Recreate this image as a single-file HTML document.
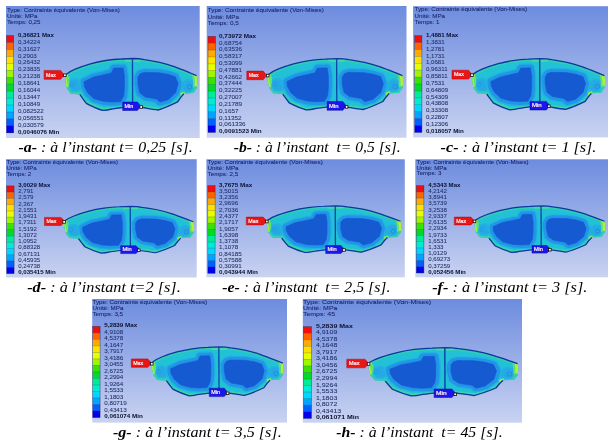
<!DOCTYPE html>
<html lang="fr"><head><meta charset="utf-8"><title>Contrainte équivalente (Von-Mises)</title>
<style>
html,body{margin:0;padding:0;background:#fff;}
body{width:616px;height:445px;overflow:hidden;}
svg{display:block;}
.t{font-family:"Liberation Sans",Arial,sans-serif;font-size:5.4px;fill:#1a2668;stroke:#1a2668;stroke-width:0.07px;}
.l{font-family:"Liberation Sans",Arial,sans-serif;font-size:5.4px;fill:#222e68;stroke:#222e68;stroke-width:0.06px;}
.lb{font-family:"Liberation Sans",Arial,sans-serif;font-size:5.4px;font-weight:bold;fill:#0b1030;}
.tag{font-family:"Liberation Sans",Arial,sans-serif;font-size:5px;fill:#fff0f0;stroke:#fff0f0;stroke-width:0.2px;}
.cap{font-family:"Liberation Serif","Times New Roman",serif;font-style:italic;font-size:14.8px;fill:#000;}
.cap .b{font-weight:bold;}
</style></head><body>
<svg width="616" height="445" viewBox="0 0 616 445">
<defs>
<filter id="soft" x="-5%" y="-5%" width="110%" height="110%"><feGaussianBlur stdDeviation="0.45"/></filter>
<linearGradient id="bg" x1="0" y1="0" x2="0" y2="1"><stop offset="0" stop-color="#6d8cdf"/><stop offset="1" stop-color="#c9d3f1"/></linearGradient>

<clipPath id="padclip"><path d="M66.1,74.4 C69,72 72,70.5 75.3,69.1 C80,67 85,65.3 90.5,63.7 C95,62.4 100,61.3 105.8,60.4 C111,59.6 116,59.1 121.1,58.9 C125,58.6 129,58.4 133.3,58.4 C137,58.5 141,58.9 144.3,59.5 C149,60.2 154,61.1 159.5,62.2 C165,63.4 170,65 174.8,66.8 C180,68.7 185,70.8 190.1,72.9 L196.4,75.6 L197.2,80.5 L196.6,88 L193.4,93 L183.6,93.6 L180.6,97.2 L177.4,101.8 C171,105 164.5,108 158,109.9 C153,109.2 148,108.3 142.7,107.4 L133,106.7 L122.6,107.4 C119,108 115,108.5 111.9,108.9 C109,109.7 106,110.2 102.8,110.3 C97,108.6 91.5,106 86.3,103.2 L83.2,99 L79.9,94.3 L70.7,93.5 L66.9,88.2 L65.3,80.5 Z"/></clipPath>
<symbol id="pad" viewBox="65.3 58.4 131.9 51.9" preserveAspectRatio="none" overflow="visible">
 <g clip-path="url(#padclip)">
  <rect x="60" y="55" width="142" height="60" fill="#22c2d6"/>
  <path d="M66.1,74.4 C69,72 72,70.5 75.3,69.1 C80,67 85,65.3 90.5,63.7 C95,62.4 100,61.3 105.8,60.4 C111,59.6 116,59.1 121.1,58.9 C125,58.6 129,58.4 133.3,58.4 C137,58.5 141,58.9 144.3,59.5 C149,60.2 154,61.1 159.5,62.2 C165,63.4 170,65 174.8,66.8 C180,68.7 185,70.8 190.1,72.9 L196.4,75.6 L197.2,80.5 L196.6,88 L193.4,93 L183.6,93.6 L180.6,97.2 L177.4,101.8 C171,105 164.5,108 158,109.9 C153,109.2 148,108.3 142.7,107.4 L133,106.7 L122.6,107.4 C119,108 115,108.5 111.9,108.9 C109,109.7 106,110.2 102.8,110.3 C97,108.6 91.5,106 86.3,103.2 L83.2,99 L79.9,94.3 L70.7,93.5 L66.9,88.2 L65.3,80.5 Z" fill="none" stroke="#32ceb0" stroke-width="4.6" stroke-linejoin="round"/>
  <path d="M124,58 L141,58 L140,61.6 L125,61.6 Z" fill="#50dc9c" opacity="0.8"/>
  <path d="M87,103.6 L104,110.5 L122,107.5 L133,106.8 L143,107.5 L158,110 L177,102 L175.6,100.4 L158,107.5 L143,105 L133,104.4 L122,105 L104,108 L88.4,101.4 Z" fill="#50dc9c" opacity="0.4"/>
  <g stroke-linejoin="round">
   <path d="M70,80 L76,78.5 L80,81 L81,88.5 L77,91 L72,90.5 L69.5,86 Z" fill="#26a8e4" stroke="#24b2e2" stroke-width="1.6"/>
   <path d="M193,81 L187,79.5 L183,82 L182.4,89 L186,91.5 L191,91 L193.5,87 Z" fill="#26a8e4" stroke="#24b2e2" stroke-width="1.6"/>
   <path d="M78,82 L86,78 L86,90 L81,89 Z" fill="#26a8e4" stroke="#24b2e2" stroke-width="1.2"/>
   <path d="M184.5,83 L177,79 L177,91 L182.4,89.6 Z" fill="#26a8e4" stroke="#24b2e2" stroke-width="1.2"/>
   <path d="M84,81.6 L93.5,77 L104,74.6 L111.4,72.8 L113.6,68 L123.2,67.8 L124.4,76 L124.4,88 L123.6,96 L120.6,101.6 L112,102 L104,101.4 L94,98.6 L87.6,92.6 L84.4,86.4 Z" fill="#2096e6" stroke="#24b2e2" stroke-width="9.4"/>
   <path d="M137.8,77 L140,73.6 L144,72.3 L158.7,72.6 L168,74.2 L175.2,76.6 L177.9,83.5 L175.6,92.5 L168,99.6 L160,102 L156.2,98.8 L145,96.8 L139.6,92.6 L137.8,84 Z" fill="#2096e6" stroke="#24b2e2" stroke-width="9.4"/>
   <path d="M84,81.6 L93.5,77 L104,74.6 L111.4,72.8 L113.6,68 L123.2,67.8 L124.4,76 L124.4,88 L123.6,96 L120.6,101.6 L112,102 L104,101.4 L94,98.6 L87.6,92.6 L84.4,86.4 Z" fill="#2096e6" stroke="#2096e6" stroke-width="6.8"/>
   <path d="M137.8,77 L140,73.6 L144,72.3 L158.7,72.6 L168,74.2 L175.2,76.6 L177.9,83.5 L175.6,92.5 L168,99.6 L160,102 L156.2,98.8 L145,96.8 L139.6,92.6 L137.8,84 Z" fill="#2096e6" stroke="#2096e6" stroke-width="6.8"/>
   <path d="M84,81.6 L93.5,77 L104,74.6 L111.4,72.8 L113.6,68 L123.2,67.8 L124.4,76 L124.4,88 L123.6,96 L120.6,101.6 L112,102 L104,101.4 L94,98.6 L87.6,92.6 L84.4,86.4 Z" fill="#145ad2" stroke="#145ad2" stroke-width="0.6"/>
   <path d="M137.8,77 L140,73.6 L144,72.3 L158.7,72.6 L168,74.2 L175.2,76.6 L177.9,83.5 L175.6,92.5 L168,99.6 L160,102 L156.2,98.8 L145,96.8 L139.6,92.6 L137.8,84 Z" fill="#145ad2" stroke="#145ad2" stroke-width="0.6"/>
  </g>
  <ellipse cx="189.4" cy="86.8" rx="2.1" ry="2.3" fill="#26a8e4" stroke="#2488de" stroke-width="0.8"/>
  <ellipse cx="72.2" cy="84.6" rx="1.8" ry="2.1" fill="#26a8e4" stroke="#2096e6" stroke-width="0.6"/>
  <path d="M65,74 L68.2,73 L67.8,80 L68.6,86.5 L66,88 Z" fill="#a6ee3c"/>
  <path d="M66.5,78 L69.6,76 L69.4,84 L68,86 Z" fill="#62e070"/>
  <path d="M197.6,74.6 L193.6,73.6 L194.4,80.5 L194.2,86 L197.4,86.5 Z" fill="#b0f034"/>
  <path d="M193.8,74 L191.8,73.6 L192.8,81 L193,87.5 L194.6,87.5 Z" fill="#62e070"/>
  <path d="M180,93 L184,91.6 L185,94 L181,96.5 Z" fill="#9be848"/>
 </g>
 <path d="M66.1,74.4 C69,72 72,70.5 75.3,69.1 C80,67 85,65.3 90.5,63.7 C95,62.4 100,61.3 105.8,60.4 C111,59.6 116,59.1 121.1,58.9 C125,58.6 129,58.4 133.3,58.4 C137,58.5 141,58.9 144.3,59.5 C149,60.2 154,61.1 159.5,62.2 C165,63.4 170,65 174.8,66.8 C180,68.7 185,70.8 190.1,72.9 L196.4,75.6" fill="none" stroke="#0c38a2" stroke-width="1.35"/>
 <path d="M183.6,93.6 L180.6,97.2 L177.4,101.8 C171,105 164.5,108 158,109.9 C153,109.2 148,108.3 142.7,107.4 L133,106.7 L122.6,107.4 C119,108 115,108.5 111.9,108.9 C109,109.7 106,110.2 102.8,110.3 C97,108.6 91.5,106 86.3,103.2 L83.2,99 L79.9,94.3" fill="none" stroke="#0c38a2" stroke-width="1.35"/>
 <path d="M132.4,58.6 L132.6,107" stroke="#0c44a8" stroke-width="1.3" fill="none"/>
</symbol>
</defs>
<rect width="616" height="445" fill="#ffffff"/>
<g id="panel-a">
<rect x="6" y="6" width="193.7" height="132" fill="url(#bg)"/>
<g filter="url(#soft)">
<text class="t" transform="translate(6.9,11.6) scale(1.144,1.004)">Type: Contrainte équivalente (Von-Mises)</text>
<text class="t" transform="translate(6.9,17.6) scale(1.144,1.004)">Unité: MPa</text>
<text class="t" transform="translate(6.9,24) scale(1.144,1.004)">Temps: 0,25</text>
<rect x="6.5" y="35.6" width="7.2" height="7.09" fill="#f01010"/>
<rect x="6.5" y="42.54" width="7.2" height="7.09" fill="#ff6400"/>
<path d="M6.5,42.54 H13.7" stroke="#101838" stroke-width="0.45" opacity="0.45"/>
<rect x="6.5" y="49.49" width="7.2" height="7.09" fill="#ffaa00"/>
<path d="M6.5,49.49 H13.7" stroke="#101838" stroke-width="0.45" opacity="0.45"/>
<rect x="6.5" y="56.43" width="7.2" height="7.09" fill="#ffe100"/>
<path d="M6.5,56.43 H13.7" stroke="#101838" stroke-width="0.45" opacity="0.45"/>
<rect x="6.5" y="63.37" width="7.2" height="7.09" fill="#e6ff00"/>
<path d="M6.5,63.37 H13.7" stroke="#101838" stroke-width="0.45" opacity="0.45"/>
<rect x="6.5" y="70.31" width="7.2" height="7.09" fill="#a0f500"/>
<path d="M6.5,70.31 H13.7" stroke="#101838" stroke-width="0.45" opacity="0.45"/>
<rect x="6.5" y="77.26" width="7.2" height="7.09" fill="#3ce100"/>
<path d="M6.5,77.26 H13.7" stroke="#101838" stroke-width="0.45" opacity="0.45"/>
<rect x="6.5" y="84.2" width="7.2" height="7.09" fill="#00dc28"/>
<path d="M6.5,84.2 H13.7" stroke="#101838" stroke-width="0.45" opacity="0.45"/>
<rect x="6.5" y="91.14" width="7.2" height="7.09" fill="#00eb96"/>
<path d="M6.5,91.14 H13.7" stroke="#101838" stroke-width="0.45" opacity="0.45"/>
<rect x="6.5" y="98.09" width="7.2" height="7.09" fill="#00ebd2"/>
<path d="M6.5,98.09 H13.7" stroke="#101838" stroke-width="0.45" opacity="0.45"/>
<rect x="6.5" y="105.03" width="7.2" height="7.09" fill="#00d7ff"/>
<path d="M6.5,105.03 H13.7" stroke="#101838" stroke-width="0.45" opacity="0.45"/>
<rect x="6.5" y="111.97" width="7.2" height="7.09" fill="#00a5ff"/>
<path d="M6.5,111.97 H13.7" stroke="#101838" stroke-width="0.45" opacity="0.45"/>
<rect x="6.5" y="118.91" width="7.2" height="7.09" fill="#005fff"/>
<path d="M6.5,118.91 H13.7" stroke="#101838" stroke-width="0.45" opacity="0.45"/>
<rect x="6.5" y="125.86" width="7.2" height="7.09" fill="#0000eb"/>
<path d="M6.5,125.86 H13.7" stroke="#101838" stroke-width="0.45" opacity="0.45"/>
<rect x="6.5" y="35.6" width="7.2" height="97.2" fill="none" stroke="#1a2050" stroke-width="0.5" opacity="0.7"/>
<text class="lb" transform="translate(17.9,36.8) scale(1.144,1.004)">0,36821 Max</text>
<text class="l" transform="translate(17.9,43.72) scale(1.144,1.004)">0,34224</text>
<text class="l" transform="translate(17.9,50.64) scale(1.144,1.004)">0,31627</text>
<text class="l" transform="translate(17.9,57.56) scale(1.144,1.004)">0,2903</text>
<text class="l" transform="translate(17.9,64.49) scale(1.144,1.004)">0,26432</text>
<text class="l" transform="translate(17.9,71.41) scale(1.144,1.004)">0,23835</text>
<text class="l" transform="translate(17.9,78.33) scale(1.144,1.004)">0,21238</text>
<text class="l" transform="translate(17.9,85.25) scale(1.144,1.004)">0,18641</text>
<text class="l" transform="translate(17.9,92.17) scale(1.144,1.004)">0,16044</text>
<text class="l" transform="translate(17.9,99.09) scale(1.144,1.004)">0,13447</text>
<text class="l" transform="translate(17.9,106.01) scale(1.144,1.004)">0,10849</text>
<text class="l" transform="translate(17.9,112.94) scale(1.144,1.004)">0,082522</text>
<text class="l" transform="translate(17.9,119.86) scale(1.144,1.004)">0,056551</text>
<text class="l" transform="translate(17.9,126.78) scale(1.144,1.004)">0,030579</text>
<text class="lb" transform="translate(17.9,133.7) scale(1.144,1.004)">0,0046076 Min</text>
<use href="#pad" x="65.2" y="58.5" width="132.2" height="51.9"/>
<path d="M44.1,70.4 L60.7,70.4 L63.1,73.45 L63.1,76.25 L60.7,79.3 L44.1,79.3 Z" fill="#ea1218" stroke="#b00a10" stroke-width="0.5" stroke-linejoin="round"/>
<rect x="63.6" y="74" width="2.6" height="2.6" fill="#fff" stroke="#101010" stroke-width="0.8"/>
<text class="tag" x="46" y="76.6" textLength="9.96" lengthAdjust="spacingAndGlyphs">Max</text>
<path d="M122.7,102 L137.3,102 L139.7,104.85 L139.7,107.65 L137.3,110.5 L122.7,110.5 Z" fill="#1a14ea" stroke="#0c0a9a" stroke-width="0.5" stroke-linejoin="round"/>
<rect x="139.9" y="105.7" width="2.6" height="2.6" fill="#fff" stroke="#101010" stroke-width="0.8"/>
<text class="tag" x="124.6" y="108" textLength="8.76" lengthAdjust="spacingAndGlyphs">Min</text>
</g>
</g>
<text class="cap" x="18.4" y="151.9" textLength="174.3" lengthAdjust="spacingAndGlyphs" xml:space="preserve"><tspan class="b">-a-</tspan> : à l’instant t= 0,25 [s].</text>
<g id="panel-b">
<rect x="206.7" y="6" width="199.8" height="131.7" fill="url(#bg)"/>
<g filter="url(#soft)">
<text class="t" transform="translate(207.8,12.4) scale(1.176,1.002)">Type: Contrainte équivalente (Von-Mises)</text>
<text class="t" transform="translate(207.8,18.6) scale(1.176,1.002)">Unité: MPa</text>
<text class="t" transform="translate(207.8,24.9) scale(1.176,1.002)">Temps: 0,5</text>
<rect x="208" y="36.4" width="7.5" height="7" fill="#f01010"/>
<rect x="208" y="43.25" width="7.5" height="7" fill="#ff6400"/>
<path d="M208,43.25 H215.5" stroke="#101838" stroke-width="0.45" opacity="0.45"/>
<rect x="208" y="50.1" width="7.5" height="7" fill="#ffaa00"/>
<path d="M208,50.1 H215.5" stroke="#101838" stroke-width="0.45" opacity="0.45"/>
<rect x="208" y="56.95" width="7.5" height="7" fill="#ffe100"/>
<path d="M208,56.95 H215.5" stroke="#101838" stroke-width="0.45" opacity="0.45"/>
<rect x="208" y="63.8" width="7.5" height="7" fill="#e6ff00"/>
<path d="M208,63.8 H215.5" stroke="#101838" stroke-width="0.45" opacity="0.45"/>
<rect x="208" y="70.65" width="7.5" height="7" fill="#a0f500"/>
<path d="M208,70.65 H215.5" stroke="#101838" stroke-width="0.45" opacity="0.45"/>
<rect x="208" y="77.5" width="7.5" height="7" fill="#3ce100"/>
<path d="M208,77.5 H215.5" stroke="#101838" stroke-width="0.45" opacity="0.45"/>
<rect x="208" y="84.35" width="7.5" height="7" fill="#00dc28"/>
<path d="M208,84.35 H215.5" stroke="#101838" stroke-width="0.45" opacity="0.45"/>
<rect x="208" y="91.2" width="7.5" height="7" fill="#00eb96"/>
<path d="M208,91.2 H215.5" stroke="#101838" stroke-width="0.45" opacity="0.45"/>
<rect x="208" y="98.05" width="7.5" height="7" fill="#00ebd2"/>
<path d="M208,98.05 H215.5" stroke="#101838" stroke-width="0.45" opacity="0.45"/>
<rect x="208" y="104.9" width="7.5" height="7" fill="#00d7ff"/>
<path d="M208,104.9 H215.5" stroke="#101838" stroke-width="0.45" opacity="0.45"/>
<rect x="208" y="111.75" width="7.5" height="7" fill="#00a5ff"/>
<path d="M208,111.75 H215.5" stroke="#101838" stroke-width="0.45" opacity="0.45"/>
<rect x="208" y="118.6" width="7.5" height="7" fill="#005fff"/>
<path d="M208,118.6 H215.5" stroke="#101838" stroke-width="0.45" opacity="0.45"/>
<rect x="208" y="125.45" width="7.5" height="7" fill="#0000eb"/>
<path d="M208,125.45 H215.5" stroke="#101838" stroke-width="0.45" opacity="0.45"/>
<rect x="208" y="36.4" width="7.5" height="95.9" fill="none" stroke="#1a2050" stroke-width="0.5" opacity="0.7"/>
<text class="lb" transform="translate(219.1,37.7) scale(1.176,1.002)">0,73972 Max</text>
<text class="l" transform="translate(219.1,44.52) scale(1.176,1.002)">0,68754</text>
<text class="l" transform="translate(219.1,51.34) scale(1.176,1.002)">0,63536</text>
<text class="l" transform="translate(219.1,58.16) scale(1.176,1.002)">0,58317</text>
<text class="l" transform="translate(219.1,64.99) scale(1.176,1.002)">0,53099</text>
<text class="l" transform="translate(219.1,71.81) scale(1.176,1.002)">0,47881</text>
<text class="l" transform="translate(219.1,78.63) scale(1.176,1.002)">0,42662</text>
<text class="l" transform="translate(219.1,85.45) scale(1.176,1.002)">0,37444</text>
<text class="l" transform="translate(219.1,92.27) scale(1.176,1.002)">0,32225</text>
<text class="l" transform="translate(219.1,99.09) scale(1.176,1.002)">0,27007</text>
<text class="l" transform="translate(219.1,105.91) scale(1.176,1.002)">0,21789</text>
<text class="l" transform="translate(219.1,112.74) scale(1.176,1.002)">0,1657</text>
<text class="l" transform="translate(219.1,119.56) scale(1.176,1.002)">0,11352</text>
<text class="l" transform="translate(219.1,126.38) scale(1.176,1.002)">0,061336</text>
<text class="lb" transform="translate(219.1,133.2) scale(1.176,1.002)">0,0091523 Min</text>
<use href="#pad" x="267.7" y="58.6" width="135.5" height="51.3"/>
<path d="M246.8,71.1 L263.2,71.1 L265.6,74 L265.6,76.8 L263.2,79.7 L246.8,79.7 Z" fill="#ea1218" stroke="#b00a10" stroke-width="0.5" stroke-linejoin="round"/>
<rect x="266.4" y="74.3" width="2.6" height="2.6" fill="#fff" stroke="#101010" stroke-width="0.8"/>
<text class="tag" x="248.7" y="77.15" textLength="9.84" lengthAdjust="spacingAndGlyphs">Max</text>
<path d="M327.1,101.5 L342.8,101.5 L345.2,104.5 L345.2,107.3 L342.8,110.3 L327.1,110.3 Z" fill="#1a14ea" stroke="#0c0a9a" stroke-width="0.5" stroke-linejoin="round"/>
<rect x="345.3" y="105.6" width="2.6" height="2.6" fill="#fff" stroke="#101010" stroke-width="0.8"/>
<text class="tag" x="329" y="107.65" textLength="9.42" lengthAdjust="spacingAndGlyphs">Min</text>
</g>
</g>
<text class="cap" x="233.7" y="151.9" textLength="167.1" lengthAdjust="spacingAndGlyphs" xml:space="preserve"><tspan class="b">-b-</tspan> : à l’instant  t= 0,5 [s].</text>
<g id="panel-c">
<rect x="413.1" y="6.2" width="194.9" height="131.2" fill="url(#bg)"/>
<g filter="url(#soft)">
<text class="t" transform="translate(414.6,11.4) scale(1.138,0.998)">Type: Contrainte équivalente (Von-Mises)</text>
<text class="t" transform="translate(414.6,17.75) scale(1.138,0.998)">Unité: MPa</text>
<text class="t" transform="translate(414.6,24.2) scale(1.138,0.998)">Temps: 1</text>
<rect x="414.7" y="35.7" width="7.2" height="7.05" fill="#f01010"/>
<rect x="414.7" y="42.6" width="7.2" height="7.05" fill="#ff6400"/>
<path d="M414.7,42.6 H421.9" stroke="#101838" stroke-width="0.45" opacity="0.45"/>
<rect x="414.7" y="49.5" width="7.2" height="7.05" fill="#ffaa00"/>
<path d="M414.7,49.5 H421.9" stroke="#101838" stroke-width="0.45" opacity="0.45"/>
<rect x="414.7" y="56.4" width="7.2" height="7.05" fill="#ffe100"/>
<path d="M414.7,56.4 H421.9" stroke="#101838" stroke-width="0.45" opacity="0.45"/>
<rect x="414.7" y="63.3" width="7.2" height="7.05" fill="#e6ff00"/>
<path d="M414.7,63.3 H421.9" stroke="#101838" stroke-width="0.45" opacity="0.45"/>
<rect x="414.7" y="70.2" width="7.2" height="7.05" fill="#a0f500"/>
<path d="M414.7,70.2 H421.9" stroke="#101838" stroke-width="0.45" opacity="0.45"/>
<rect x="414.7" y="77.1" width="7.2" height="7.05" fill="#3ce100"/>
<path d="M414.7,77.1 H421.9" stroke="#101838" stroke-width="0.45" opacity="0.45"/>
<rect x="414.7" y="84" width="7.2" height="7.05" fill="#00dc28"/>
<path d="M414.7,84 H421.9" stroke="#101838" stroke-width="0.45" opacity="0.45"/>
<rect x="414.7" y="90.9" width="7.2" height="7.05" fill="#00eb96"/>
<path d="M414.7,90.9 H421.9" stroke="#101838" stroke-width="0.45" opacity="0.45"/>
<rect x="414.7" y="97.8" width="7.2" height="7.05" fill="#00ebd2"/>
<path d="M414.7,97.8 H421.9" stroke="#101838" stroke-width="0.45" opacity="0.45"/>
<rect x="414.7" y="104.7" width="7.2" height="7.05" fill="#00d7ff"/>
<path d="M414.7,104.7 H421.9" stroke="#101838" stroke-width="0.45" opacity="0.45"/>
<rect x="414.7" y="111.6" width="7.2" height="7.05" fill="#00a5ff"/>
<path d="M414.7,111.6 H421.9" stroke="#101838" stroke-width="0.45" opacity="0.45"/>
<rect x="414.7" y="118.5" width="7.2" height="7.05" fill="#005fff"/>
<path d="M414.7,118.5 H421.9" stroke="#101838" stroke-width="0.45" opacity="0.45"/>
<rect x="414.7" y="125.4" width="7.2" height="7.05" fill="#0000eb"/>
<path d="M414.7,125.4 H421.9" stroke="#101838" stroke-width="0.45" opacity="0.45"/>
<rect x="414.7" y="35.7" width="7.2" height="96.6" fill="none" stroke="#1a2050" stroke-width="0.5" opacity="0.7"/>
<text class="lb" transform="translate(425.9,37) scale(1.138,0.998)">1,4881 Max</text>
<text class="l" transform="translate(425.9,43.84) scale(1.138,0.998)">1,3831</text>
<text class="l" transform="translate(425.9,50.69) scale(1.138,0.998)">1,2781</text>
<text class="l" transform="translate(425.9,57.53) scale(1.138,0.998)">1,1731</text>
<text class="l" transform="translate(425.9,64.37) scale(1.138,0.998)">1,0681</text>
<text class="l" transform="translate(425.9,71.21) scale(1.138,0.998)">0,96311</text>
<text class="l" transform="translate(425.9,78.06) scale(1.138,0.998)">0,85811</text>
<text class="l" transform="translate(425.9,84.9) scale(1.138,0.998)">0,7531</text>
<text class="l" transform="translate(425.9,91.74) scale(1.138,0.998)">0,64809</text>
<text class="l" transform="translate(425.9,98.59) scale(1.138,0.998)">0,54309</text>
<text class="l" transform="translate(425.9,105.43) scale(1.138,0.998)">0,43808</text>
<text class="l" transform="translate(425.9,112.27) scale(1.138,0.998)">0,33308</text>
<text class="l" transform="translate(425.9,119.11) scale(1.138,0.998)">0,22807</text>
<text class="l" transform="translate(425.9,125.96) scale(1.138,0.998)">0,12306</text>
<text class="lb" transform="translate(425.9,132.8) scale(1.138,0.998)">0,018057 Min</text>
<use href="#pad" x="472" y="58.6" width="133.1" height="51.2"/>
<path d="M452,70.2 L468.6,70.2 L471,73.25 L471,76.05 L468.6,79.1 L452,79.1 Z" fill="#ea1218" stroke="#b00a10" stroke-width="0.5" stroke-linejoin="round"/>
<rect x="470.7" y="73.8" width="2.6" height="2.6" fill="#fff" stroke="#101010" stroke-width="0.8"/>
<text class="tag" x="453.9" y="76.4" textLength="9.96" lengthAdjust="spacingAndGlyphs">Max</text>
<path d="M530,101.4 L546.3,101.4 L548.7,104.3 L548.7,107.1 L546.3,110 L530,110 Z" fill="#1a14ea" stroke="#0c0a9a" stroke-width="0.5" stroke-linejoin="round"/>
<rect x="547.6" y="105" width="2.6" height="2.6" fill="#fff" stroke="#101010" stroke-width="0.8"/>
<text class="tag" x="531.9" y="107.45" textLength="9.78" lengthAdjust="spacingAndGlyphs">Min</text>
</g>
</g>
<text class="cap" x="440.6" y="151.9" textLength="155.8" lengthAdjust="spacingAndGlyphs" xml:space="preserve"><tspan class="b">-c-</tspan> : à l’instant t= 1 [s].</text>
<g id="panel-d">
<rect x="6" y="159.2" width="190.7" height="118.3" fill="url(#bg)"/>
<g filter="url(#soft)">
<text class="t" transform="translate(6.5,163.8) scale(1.130,0.900)">Type: Contrainte équivalente (Von-Mises)</text>
<text class="t" transform="translate(6.5,169.5) scale(1.130,0.900)">Unité: MPa</text>
<text class="t" transform="translate(6.5,175.5) scale(1.130,0.900)">Temps: 2</text>
<rect x="6.7" y="185.9" width="7.4" height="6.41" fill="#f01010"/>
<rect x="6.7" y="192.16" width="7.4" height="6.41" fill="#ff6400"/>
<path d="M6.7,192.16 H14.1" stroke="#101838" stroke-width="0.45" opacity="0.45"/>
<rect x="6.7" y="198.41" width="7.4" height="6.41" fill="#ffaa00"/>
<path d="M6.7,198.41 H14.1" stroke="#101838" stroke-width="0.45" opacity="0.45"/>
<rect x="6.7" y="204.67" width="7.4" height="6.41" fill="#ffe100"/>
<path d="M6.7,204.67 H14.1" stroke="#101838" stroke-width="0.45" opacity="0.45"/>
<rect x="6.7" y="210.93" width="7.4" height="6.41" fill="#e6ff00"/>
<path d="M6.7,210.93 H14.1" stroke="#101838" stroke-width="0.45" opacity="0.45"/>
<rect x="6.7" y="217.19" width="7.4" height="6.41" fill="#a0f500"/>
<path d="M6.7,217.19 H14.1" stroke="#101838" stroke-width="0.45" opacity="0.45"/>
<rect x="6.7" y="223.44" width="7.4" height="6.41" fill="#3ce100"/>
<path d="M6.7,223.44 H14.1" stroke="#101838" stroke-width="0.45" opacity="0.45"/>
<rect x="6.7" y="229.7" width="7.4" height="6.41" fill="#00dc28"/>
<path d="M6.7,229.7 H14.1" stroke="#101838" stroke-width="0.45" opacity="0.45"/>
<rect x="6.7" y="235.96" width="7.4" height="6.41" fill="#00eb96"/>
<path d="M6.7,235.96 H14.1" stroke="#101838" stroke-width="0.45" opacity="0.45"/>
<rect x="6.7" y="242.21" width="7.4" height="6.41" fill="#00ebd2"/>
<path d="M6.7,242.21 H14.1" stroke="#101838" stroke-width="0.45" opacity="0.45"/>
<rect x="6.7" y="248.47" width="7.4" height="6.41" fill="#00d7ff"/>
<path d="M6.7,248.47 H14.1" stroke="#101838" stroke-width="0.45" opacity="0.45"/>
<rect x="6.7" y="254.73" width="7.4" height="6.41" fill="#00a5ff"/>
<path d="M6.7,254.73 H14.1" stroke="#101838" stroke-width="0.45" opacity="0.45"/>
<rect x="6.7" y="260.99" width="7.4" height="6.41" fill="#005fff"/>
<path d="M6.7,260.99 H14.1" stroke="#101838" stroke-width="0.45" opacity="0.45"/>
<rect x="6.7" y="267.24" width="7.4" height="6.41" fill="#0000eb"/>
<path d="M6.7,267.24 H14.1" stroke="#101838" stroke-width="0.45" opacity="0.45"/>
<rect x="6.7" y="185.9" width="7.4" height="87.6" fill="none" stroke="#1a2050" stroke-width="0.5" opacity="0.7"/>
<text class="lb" transform="translate(18.2,187) scale(1.130,0.900)">3,0029 Max</text>
<text class="l" transform="translate(18.2,193.24) scale(1.130,0.900)">2,791</text>
<text class="l" transform="translate(18.2,199.47) scale(1.130,0.900)">2,579</text>
<text class="l" transform="translate(18.2,205.71) scale(1.130,0.900)">2,367</text>
<text class="l" transform="translate(18.2,211.94) scale(1.130,0.900)">2,1551</text>
<text class="l" transform="translate(18.2,218.18) scale(1.130,0.900)">1,9431</text>
<text class="l" transform="translate(18.2,224.41) scale(1.130,0.900)">1,7311</text>
<text class="l" transform="translate(18.2,230.65) scale(1.130,0.900)">1,5192</text>
<text class="l" transform="translate(18.2,236.89) scale(1.130,0.900)">1,3072</text>
<text class="l" transform="translate(18.2,243.12) scale(1.130,0.900)">1,0952</text>
<text class="l" transform="translate(18.2,249.36) scale(1.130,0.900)">0,88328</text>
<text class="l" transform="translate(18.2,255.59) scale(1.130,0.900)">0,67131</text>
<text class="l" transform="translate(18.2,261.83) scale(1.130,0.900)">0,45935</text>
<text class="l" transform="translate(18.2,268.06) scale(1.130,0.900)">0,24738</text>
<text class="lb" transform="translate(18.2,274.3) scale(1.130,0.900)">0,035415 Min</text>
<use href="#pad" x="64.1" y="206.3" width="130" height="46.8"/>
<path d="M44.5,217.4 L61.1,217.4 L63.5,220.05 L63.5,222.85 L61.1,225.5 L44.5,225.5 Z" fill="#ea1218" stroke="#b00a10" stroke-width="0.5" stroke-linejoin="round"/>
<rect x="62.8" y="220.6" width="2.6" height="2.6" fill="#fff" stroke="#101010" stroke-width="0.8"/>
<text class="tag" x="46.4" y="223.2" textLength="9.96" lengthAdjust="spacingAndGlyphs">Max</text>
<path d="M120.7,245.8 L136,245.8 L138.4,248.3 L138.4,251.1 L136,253.6 L120.7,253.6 Z" fill="#1a14ea" stroke="#0c0a9a" stroke-width="0.5" stroke-linejoin="round"/>
<rect x="137.5" y="249" width="2.6" height="2.6" fill="#fff" stroke="#101010" stroke-width="0.8"/>
<text class="tag" x="122.6" y="251.45" textLength="9.18" lengthAdjust="spacingAndGlyphs">Min</text>
</g>
</g>
<text class="cap" x="27.2" y="291.6" textLength="153.5" lengthAdjust="spacingAndGlyphs" xml:space="preserve"><tspan class="b">-d-</tspan> : à l’instant t=2 [s].</text>
<g id="panel-e">
<rect x="206.4" y="159.3" width="198.4" height="118" fill="url(#bg)"/>
<g filter="url(#soft)">
<text class="t" transform="translate(207.5,163.8) scale(1.165,0.897)">Type: Contrainte équivalente (Von-Mises)</text>
<text class="t" transform="translate(207.5,169.5) scale(1.165,0.897)">Unité: MPa</text>
<text class="t" transform="translate(207.5,175.5) scale(1.165,0.897)">Temps: 2,5</text>
<rect x="207.8" y="185.7" width="7.3" height="6.4" fill="#f01010"/>
<rect x="207.8" y="191.95" width="7.3" height="6.4" fill="#ff6400"/>
<path d="M207.8,191.95 H215.1" stroke="#101838" stroke-width="0.45" opacity="0.45"/>
<rect x="207.8" y="198.2" width="7.3" height="6.4" fill="#ffaa00"/>
<path d="M207.8,198.2 H215.1" stroke="#101838" stroke-width="0.45" opacity="0.45"/>
<rect x="207.8" y="204.45" width="7.3" height="6.4" fill="#ffe100"/>
<path d="M207.8,204.45 H215.1" stroke="#101838" stroke-width="0.45" opacity="0.45"/>
<rect x="207.8" y="210.7" width="7.3" height="6.4" fill="#e6ff00"/>
<path d="M207.8,210.7 H215.1" stroke="#101838" stroke-width="0.45" opacity="0.45"/>
<rect x="207.8" y="216.95" width="7.3" height="6.4" fill="#a0f500"/>
<path d="M207.8,216.95 H215.1" stroke="#101838" stroke-width="0.45" opacity="0.45"/>
<rect x="207.8" y="223.2" width="7.3" height="6.4" fill="#3ce100"/>
<path d="M207.8,223.2 H215.1" stroke="#101838" stroke-width="0.45" opacity="0.45"/>
<rect x="207.8" y="229.45" width="7.3" height="6.4" fill="#00dc28"/>
<path d="M207.8,229.45 H215.1" stroke="#101838" stroke-width="0.45" opacity="0.45"/>
<rect x="207.8" y="235.7" width="7.3" height="6.4" fill="#00eb96"/>
<path d="M207.8,235.7 H215.1" stroke="#101838" stroke-width="0.45" opacity="0.45"/>
<rect x="207.8" y="241.95" width="7.3" height="6.4" fill="#00ebd2"/>
<path d="M207.8,241.95 H215.1" stroke="#101838" stroke-width="0.45" opacity="0.45"/>
<rect x="207.8" y="248.2" width="7.3" height="6.4" fill="#00d7ff"/>
<path d="M207.8,248.2 H215.1" stroke="#101838" stroke-width="0.45" opacity="0.45"/>
<rect x="207.8" y="254.45" width="7.3" height="6.4" fill="#00a5ff"/>
<path d="M207.8,254.45 H215.1" stroke="#101838" stroke-width="0.45" opacity="0.45"/>
<rect x="207.8" y="260.7" width="7.3" height="6.4" fill="#005fff"/>
<path d="M207.8,260.7 H215.1" stroke="#101838" stroke-width="0.45" opacity="0.45"/>
<rect x="207.8" y="266.95" width="7.3" height="6.4" fill="#0000eb"/>
<path d="M207.8,266.95 H215.1" stroke="#101838" stroke-width="0.45" opacity="0.45"/>
<rect x="207.8" y="185.7" width="7.3" height="87.5" fill="none" stroke="#1a2050" stroke-width="0.5" opacity="0.7"/>
<text class="lb" transform="translate(219.1,186.7) scale(1.165,0.897)">3,7675 Max</text>
<text class="l" transform="translate(219.1,192.96) scale(1.165,0.897)">3,5015</text>
<text class="l" transform="translate(219.1,199.21) scale(1.165,0.897)">3,2356</text>
<text class="l" transform="translate(219.1,205.47) scale(1.165,0.897)">2,9696</text>
<text class="l" transform="translate(219.1,211.73) scale(1.165,0.897)">2,7036</text>
<text class="l" transform="translate(219.1,217.99) scale(1.165,0.897)">2,4377</text>
<text class="l" transform="translate(219.1,224.24) scale(1.165,0.897)">2,1717</text>
<text class="l" transform="translate(219.1,230.5) scale(1.165,0.897)">1,9057</text>
<text class="l" transform="translate(219.1,236.76) scale(1.165,0.897)">1,6398</text>
<text class="l" transform="translate(219.1,243.01) scale(1.165,0.897)">1,3738</text>
<text class="l" transform="translate(219.1,249.27) scale(1.165,0.897)">1,1078</text>
<text class="l" transform="translate(219.1,255.53) scale(1.165,0.897)">0,84185</text>
<text class="l" transform="translate(219.1,261.79) scale(1.165,0.897)">0,57588</text>
<text class="l" transform="translate(219.1,268.04) scale(1.165,0.897)">0,30991</text>
<text class="lb" transform="translate(219.1,274.3) scale(1.165,0.897)">0,043944 Min</text>
<use href="#pad" x="266.8" y="205.8" width="134.5" height="46.7"/>
<path d="M246.3,217.1 L263.2,217.1 L265.6,219.6 L265.6,222.4 L263.2,224.9 L246.3,224.9 Z" fill="#ea1218" stroke="#b00a10" stroke-width="0.5" stroke-linejoin="round"/>
<rect x="265.5" y="220.2" width="2.6" height="2.6" fill="#fff" stroke="#101010" stroke-width="0.8"/>
<text class="tag" x="248.2" y="222.75" textLength="10.14" lengthAdjust="spacingAndGlyphs">Max</text>
<path d="M325.7,245.5 L340.9,245.5 L343.3,248.1 L343.3,250.9 L340.9,253.5 L325.7,253.5 Z" fill="#1a14ea" stroke="#0c0a9a" stroke-width="0.5" stroke-linejoin="round"/>
<rect x="342.7" y="248.7" width="2.6" height="2.6" fill="#fff" stroke="#101010" stroke-width="0.8"/>
<text class="tag" x="327.6" y="251.25" textLength="9.12" lengthAdjust="spacingAndGlyphs">Min</text>
</g>
</g>
<text class="cap" x="222.3" y="291.6" textLength="168.1" lengthAdjust="spacingAndGlyphs" xml:space="preserve"><tspan class="b">-e-</tspan> : à l’instant  t= 2,5 [s].</text>
<g id="panel-f">
<rect x="415.3" y="159.3" width="192.7" height="118" fill="url(#bg)"/>
<g filter="url(#soft)">
<text class="t" transform="translate(416.6,163.8) scale(1.133,0.897)">Type: Contrainte équivalente (Von-Mises)</text>
<text class="t" transform="translate(416.6,169.5) scale(1.133,0.897)">Unité: MPa</text>
<text class="t" transform="translate(416.6,175.3) scale(1.133,0.897)">Temps: 3</text>
<rect x="416.3" y="185.7" width="7.6" height="6.38" fill="#f01010"/>
<rect x="416.3" y="191.93" width="7.6" height="6.38" fill="#ff6400"/>
<path d="M416.3,191.93 H423.9" stroke="#101838" stroke-width="0.45" opacity="0.45"/>
<rect x="416.3" y="198.16" width="7.6" height="6.38" fill="#ffaa00"/>
<path d="M416.3,198.16 H423.9" stroke="#101838" stroke-width="0.45" opacity="0.45"/>
<rect x="416.3" y="204.39" width="7.6" height="6.38" fill="#ffe100"/>
<path d="M416.3,204.39 H423.9" stroke="#101838" stroke-width="0.45" opacity="0.45"/>
<rect x="416.3" y="210.61" width="7.6" height="6.38" fill="#e6ff00"/>
<path d="M416.3,210.61 H423.9" stroke="#101838" stroke-width="0.45" opacity="0.45"/>
<rect x="416.3" y="216.84" width="7.6" height="6.38" fill="#a0f500"/>
<path d="M416.3,216.84 H423.9" stroke="#101838" stroke-width="0.45" opacity="0.45"/>
<rect x="416.3" y="223.07" width="7.6" height="6.38" fill="#3ce100"/>
<path d="M416.3,223.07 H423.9" stroke="#101838" stroke-width="0.45" opacity="0.45"/>
<rect x="416.3" y="229.3" width="7.6" height="6.38" fill="#00dc28"/>
<path d="M416.3,229.3 H423.9" stroke="#101838" stroke-width="0.45" opacity="0.45"/>
<rect x="416.3" y="235.53" width="7.6" height="6.38" fill="#00eb96"/>
<path d="M416.3,235.53 H423.9" stroke="#101838" stroke-width="0.45" opacity="0.45"/>
<rect x="416.3" y="241.76" width="7.6" height="6.38" fill="#00ebd2"/>
<path d="M416.3,241.76 H423.9" stroke="#101838" stroke-width="0.45" opacity="0.45"/>
<rect x="416.3" y="247.99" width="7.6" height="6.38" fill="#00d7ff"/>
<path d="M416.3,247.99 H423.9" stroke="#101838" stroke-width="0.45" opacity="0.45"/>
<rect x="416.3" y="254.21" width="7.6" height="6.38" fill="#00a5ff"/>
<path d="M416.3,254.21 H423.9" stroke="#101838" stroke-width="0.45" opacity="0.45"/>
<rect x="416.3" y="260.44" width="7.6" height="6.38" fill="#005fff"/>
<path d="M416.3,260.44 H423.9" stroke="#101838" stroke-width="0.45" opacity="0.45"/>
<rect x="416.3" y="266.67" width="7.6" height="6.38" fill="#0000eb"/>
<path d="M416.3,266.67 H423.9" stroke="#101838" stroke-width="0.45" opacity="0.45"/>
<rect x="416.3" y="185.7" width="7.6" height="87.2" fill="none" stroke="#1a2050" stroke-width="0.5" opacity="0.7"/>
<text class="lb" transform="translate(428.2,186.7) scale(1.133,0.897)">4,5343 Max</text>
<text class="l" transform="translate(428.2,192.93) scale(1.133,0.897)">4,2142</text>
<text class="l" transform="translate(428.2,199.16) scale(1.133,0.897)">3,8941</text>
<text class="l" transform="translate(428.2,205.39) scale(1.133,0.897)">3,5739</text>
<text class="l" transform="translate(428.2,211.61) scale(1.133,0.897)">3,2538</text>
<text class="l" transform="translate(428.2,217.84) scale(1.133,0.897)">2,9337</text>
<text class="l" transform="translate(428.2,224.07) scale(1.133,0.897)">2,6135</text>
<text class="l" transform="translate(428.2,230.3) scale(1.133,0.897)">2,2934</text>
<text class="l" transform="translate(428.2,236.53) scale(1.133,0.897)">1,9733</text>
<text class="l" transform="translate(428.2,242.76) scale(1.133,0.897)">1,6531</text>
<text class="l" transform="translate(428.2,248.99) scale(1.133,0.897)">1,333</text>
<text class="l" transform="translate(428.2,255.21) scale(1.133,0.897)">1,0129</text>
<text class="l" transform="translate(428.2,261.44) scale(1.133,0.897)">0,69273</text>
<text class="l" transform="translate(428.2,267.67) scale(1.133,0.897)">0,37259</text>
<text class="lb" transform="translate(428.2,273.9) scale(1.133,0.897)">0,052456 Min</text>
<use href="#pad" x="474.5" y="205.9" width="130.8" height="46.5"/>
<path d="M454.3,217.1 L470.9,217.1 L473.3,219.6 L473.3,222.4 L470.9,224.9 L454.3,224.9 Z" fill="#ea1218" stroke="#b00a10" stroke-width="0.5" stroke-linejoin="round"/>
<rect x="473.2" y="220.1" width="2.6" height="2.6" fill="#fff" stroke="#101010" stroke-width="0.8"/>
<text class="tag" x="456.2" y="222.75" textLength="9.96" lengthAdjust="spacingAndGlyphs">Max</text>
<path d="M532,245.5 L547,245.5 L549.4,247.9 L549.4,250.7 L547,253.1 L532,253.1 Z" fill="#1a14ea" stroke="#0c0a9a" stroke-width="0.5" stroke-linejoin="round"/>
<rect x="548.6" y="248.4" width="2.6" height="2.6" fill="#fff" stroke="#101010" stroke-width="0.8"/>
<text class="tag" x="533.9" y="251.05" textLength="9" lengthAdjust="spacingAndGlyphs">Min</text>
</g>
</g>
<text class="cap" x="432.2" y="291.6" textLength="155.1" lengthAdjust="spacingAndGlyphs" xml:space="preserve"><tspan class="b">-f-</tspan> : à l’instant t= 3 [s].</text>
<g id="panel-g">
<rect x="92.2" y="299" width="194.8" height="123.6" fill="url(#bg)"/>
<g filter="url(#soft)">
<text class="t" transform="translate(92.5,303.8) scale(1.161,0.940)">Type: Contrainte équivalente (Von-Mises)</text>
<text class="t" transform="translate(92.5,309.5) scale(1.161,0.940)">Unité: MPa</text>
<text class="t" transform="translate(92.5,315.5) scale(1.161,0.940)">Temps: 3,5</text>
<rect x="92.7" y="326.3" width="7.4" height="6.66" fill="#f01010"/>
<rect x="92.7" y="332.81" width="7.4" height="6.66" fill="#ff6400"/>
<path d="M92.7,332.81 H100.1" stroke="#101838" stroke-width="0.45" opacity="0.45"/>
<rect x="92.7" y="339.33" width="7.4" height="6.66" fill="#ffaa00"/>
<path d="M92.7,339.33 H100.1" stroke="#101838" stroke-width="0.45" opacity="0.45"/>
<rect x="92.7" y="345.84" width="7.4" height="6.66" fill="#ffe100"/>
<path d="M92.7,345.84 H100.1" stroke="#101838" stroke-width="0.45" opacity="0.45"/>
<rect x="92.7" y="352.36" width="7.4" height="6.66" fill="#e6ff00"/>
<path d="M92.7,352.36 H100.1" stroke="#101838" stroke-width="0.45" opacity="0.45"/>
<rect x="92.7" y="358.87" width="7.4" height="6.66" fill="#a0f500"/>
<path d="M92.7,358.87 H100.1" stroke="#101838" stroke-width="0.45" opacity="0.45"/>
<rect x="92.7" y="365.39" width="7.4" height="6.66" fill="#3ce100"/>
<path d="M92.7,365.39 H100.1" stroke="#101838" stroke-width="0.45" opacity="0.45"/>
<rect x="92.7" y="371.9" width="7.4" height="6.66" fill="#00dc28"/>
<path d="M92.7,371.9 H100.1" stroke="#101838" stroke-width="0.45" opacity="0.45"/>
<rect x="92.7" y="378.41" width="7.4" height="6.66" fill="#00eb96"/>
<path d="M92.7,378.41 H100.1" stroke="#101838" stroke-width="0.45" opacity="0.45"/>
<rect x="92.7" y="384.93" width="7.4" height="6.66" fill="#00ebd2"/>
<path d="M92.7,384.93 H100.1" stroke="#101838" stroke-width="0.45" opacity="0.45"/>
<rect x="92.7" y="391.44" width="7.4" height="6.66" fill="#00d7ff"/>
<path d="M92.7,391.44 H100.1" stroke="#101838" stroke-width="0.45" opacity="0.45"/>
<rect x="92.7" y="397.96" width="7.4" height="6.66" fill="#00a5ff"/>
<path d="M92.7,397.96 H100.1" stroke="#101838" stroke-width="0.45" opacity="0.45"/>
<rect x="92.7" y="404.47" width="7.4" height="6.66" fill="#005fff"/>
<path d="M92.7,404.47 H100.1" stroke="#101838" stroke-width="0.45" opacity="0.45"/>
<rect x="92.7" y="410.99" width="7.4" height="6.66" fill="#0000eb"/>
<path d="M92.7,410.99 H100.1" stroke="#101838" stroke-width="0.45" opacity="0.45"/>
<rect x="92.7" y="326.3" width="7.4" height="91.2" fill="none" stroke="#1a2050" stroke-width="0.5" opacity="0.7"/>
<text class="lb" transform="translate(104.2,327.3) scale(1.161,0.940)">5,2839 Max</text>
<text class="l" transform="translate(104.2,333.8) scale(1.161,0.940)">4,9108</text>
<text class="l" transform="translate(104.2,340.3) scale(1.161,0.940)">4,5378</text>
<text class="l" transform="translate(104.2,346.8) scale(1.161,0.940)">4,1647</text>
<text class="l" transform="translate(104.2,353.3) scale(1.161,0.940)">3,7917</text>
<text class="l" transform="translate(104.2,359.8) scale(1.161,0.940)">3,4186</text>
<text class="l" transform="translate(104.2,366.3) scale(1.161,0.940)">3,0455</text>
<text class="l" transform="translate(104.2,372.8) scale(1.161,0.940)">2,6725</text>
<text class="l" transform="translate(104.2,379.3) scale(1.161,0.940)">2,2994</text>
<text class="l" transform="translate(104.2,385.8) scale(1.161,0.940)">1,9264</text>
<text class="l" transform="translate(104.2,392.3) scale(1.161,0.940)">1,5533</text>
<text class="l" transform="translate(104.2,398.8) scale(1.161,0.940)">1,1803</text>
<text class="l" transform="translate(104.2,405.3) scale(1.161,0.940)">0,80719</text>
<text class="l" transform="translate(104.2,411.8) scale(1.161,0.940)">0,43413</text>
<text class="lb" transform="translate(104.2,418.3) scale(1.161,0.940)">0,061074 Min</text>
<use href="#pad" x="151.8" y="346.9" width="131.8" height="48.9"/>
<path d="M131.3,358.9 L147.9,358.9 L150.3,361.7 L150.3,364.5 L147.9,367.3 L131.3,367.3 Z" fill="#ea1218" stroke="#b00a10" stroke-width="0.5" stroke-linejoin="round"/>
<rect x="150.5" y="362.4" width="2.6" height="2.6" fill="#fff" stroke="#101010" stroke-width="0.8"/>
<text class="tag" x="133.2" y="364.85" textLength="9.96" lengthAdjust="spacingAndGlyphs">Max</text>
<path d="M209.3,388.2 L224.2,388.2 L226.6,391 L226.6,393.8 L224.2,396.6 L209.3,396.6 Z" fill="#1a14ea" stroke="#0c0a9a" stroke-width="0.5" stroke-linejoin="round"/>
<rect x="226.3" y="392" width="2.6" height="2.6" fill="#fff" stroke="#101010" stroke-width="0.8"/>
<text class="tag" x="211.2" y="394.15" textLength="8.94" lengthAdjust="spacingAndGlyphs">Min</text>
</g>
</g>
<text class="cap" x="112.9" y="437.3" textLength="168.8" lengthAdjust="spacingAndGlyphs" xml:space="preserve"><tspan class="b">-g-</tspan> : à l’instant t= 3,5 [s].</text>
<g id="panel-h">
<rect x="302.8" y="299" width="219.2" height="123.7" fill="url(#bg)"/>
<g filter="url(#soft)">
<text class="t" transform="translate(302.9,303.8) scale(1.295,0.941)">Type: Contrainte équivalente (Von-Mises)</text>
<text class="t" transform="translate(302.9,309.5) scale(1.295,0.941)">Unité: MPa</text>
<text class="t" transform="translate(302.9,315.5) scale(1.295,0.941)">Temps: 45</text>
<rect x="303.4" y="326.7" width="8.1" height="6.69" fill="#f01010"/>
<rect x="303.4" y="333.24" width="8.1" height="6.69" fill="#ff6400"/>
<path d="M303.4,333.24 H311.5" stroke="#101838" stroke-width="0.45" opacity="0.45"/>
<rect x="303.4" y="339.79" width="8.1" height="6.69" fill="#ffaa00"/>
<path d="M303.4,339.79 H311.5" stroke="#101838" stroke-width="0.45" opacity="0.45"/>
<rect x="303.4" y="346.33" width="8.1" height="6.69" fill="#ffe100"/>
<path d="M303.4,346.33 H311.5" stroke="#101838" stroke-width="0.45" opacity="0.45"/>
<rect x="303.4" y="352.87" width="8.1" height="6.69" fill="#e6ff00"/>
<path d="M303.4,352.87 H311.5" stroke="#101838" stroke-width="0.45" opacity="0.45"/>
<rect x="303.4" y="359.41" width="8.1" height="6.69" fill="#a0f500"/>
<path d="M303.4,359.41 H311.5" stroke="#101838" stroke-width="0.45" opacity="0.45"/>
<rect x="303.4" y="365.96" width="8.1" height="6.69" fill="#3ce100"/>
<path d="M303.4,365.96 H311.5" stroke="#101838" stroke-width="0.45" opacity="0.45"/>
<rect x="303.4" y="372.5" width="8.1" height="6.69" fill="#00dc28"/>
<path d="M303.4,372.5 H311.5" stroke="#101838" stroke-width="0.45" opacity="0.45"/>
<rect x="303.4" y="379.04" width="8.1" height="6.69" fill="#00eb96"/>
<path d="M303.4,379.04 H311.5" stroke="#101838" stroke-width="0.45" opacity="0.45"/>
<rect x="303.4" y="385.59" width="8.1" height="6.69" fill="#00ebd2"/>
<path d="M303.4,385.59 H311.5" stroke="#101838" stroke-width="0.45" opacity="0.45"/>
<rect x="303.4" y="392.13" width="8.1" height="6.69" fill="#00d7ff"/>
<path d="M303.4,392.13 H311.5" stroke="#101838" stroke-width="0.45" opacity="0.45"/>
<rect x="303.4" y="398.67" width="8.1" height="6.69" fill="#00a5ff"/>
<path d="M303.4,398.67 H311.5" stroke="#101838" stroke-width="0.45" opacity="0.45"/>
<rect x="303.4" y="405.21" width="8.1" height="6.69" fill="#005fff"/>
<path d="M303.4,405.21 H311.5" stroke="#101838" stroke-width="0.45" opacity="0.45"/>
<rect x="303.4" y="411.76" width="8.1" height="6.69" fill="#0000eb"/>
<path d="M303.4,411.76 H311.5" stroke="#101838" stroke-width="0.45" opacity="0.45"/>
<rect x="303.4" y="326.7" width="8.1" height="91.6" fill="none" stroke="#1a2050" stroke-width="0.5" opacity="0.7"/>
<text class="lb" transform="translate(315.9,327.7) scale(1.295,0.941)">5,2839 Max</text>
<text class="l" transform="translate(315.9,334.24) scale(1.295,0.941)">4,9109</text>
<text class="l" transform="translate(315.9,340.77) scale(1.295,0.941)">4,5378</text>
<text class="l" transform="translate(315.9,347.31) scale(1.295,0.941)">4,1648</text>
<text class="l" transform="translate(315.9,353.84) scale(1.295,0.941)">3,7917</text>
<text class="l" transform="translate(315.9,360.38) scale(1.295,0.941)">3,4186</text>
<text class="l" transform="translate(315.9,366.91) scale(1.295,0.941)">3,0456</text>
<text class="l" transform="translate(315.9,373.45) scale(1.295,0.941)">2,6725</text>
<text class="l" transform="translate(315.9,379.99) scale(1.295,0.941)">2,2994</text>
<text class="l" transform="translate(315.9,386.52) scale(1.295,0.941)">1,9264</text>
<text class="l" transform="translate(315.9,393.06) scale(1.295,0.941)">1,5533</text>
<text class="l" transform="translate(315.9,399.59) scale(1.295,0.941)">1,1803</text>
<text class="l" transform="translate(315.9,406.13) scale(1.295,0.941)">0,8072</text>
<text class="l" transform="translate(315.9,412.66) scale(1.295,0.941)">0,43413</text>
<text class="lb" transform="translate(315.9,419.2) scale(1.295,0.941)">0,061071 Min</text>
<use href="#pad" x="368.6" y="347.6" width="149.8" height="48.3"/>
<path d="M346.8,359.2 L365,359.2 L367.4,362.1 L367.4,364.9 L365,367.8 L346.8,367.8 Z" fill="#ea1218" stroke="#b00a10" stroke-width="0.5" stroke-linejoin="round"/>
<rect x="367.3" y="362.7" width="2.6" height="2.6" fill="#fff" stroke="#101010" stroke-width="0.8"/>
<text class="tag" x="348.7" y="365.25" textLength="10.92" lengthAdjust="spacingAndGlyphs">Max</text>
<path d="M434.1,389 L451.9,389 L454.3,391.85 L454.3,394.65 L451.9,397.5 L434.1,397.5 Z" fill="#1a14ea" stroke="#0c0a9a" stroke-width="0.5" stroke-linejoin="round"/>
<rect x="453.9" y="393" width="2.6" height="2.6" fill="#fff" stroke="#101010" stroke-width="0.8"/>
<text class="tag" x="436" y="395" textLength="10.68" lengthAdjust="spacingAndGlyphs">Min</text>
</g>
</g>
<text class="cap" x="336.2" y="437.3" textLength="166.5" lengthAdjust="spacingAndGlyphs" xml:space="preserve"><tspan class="b">-h-</tspan> : à l’instant  t= 45 [s].</text>
</svg>
</body></html>
